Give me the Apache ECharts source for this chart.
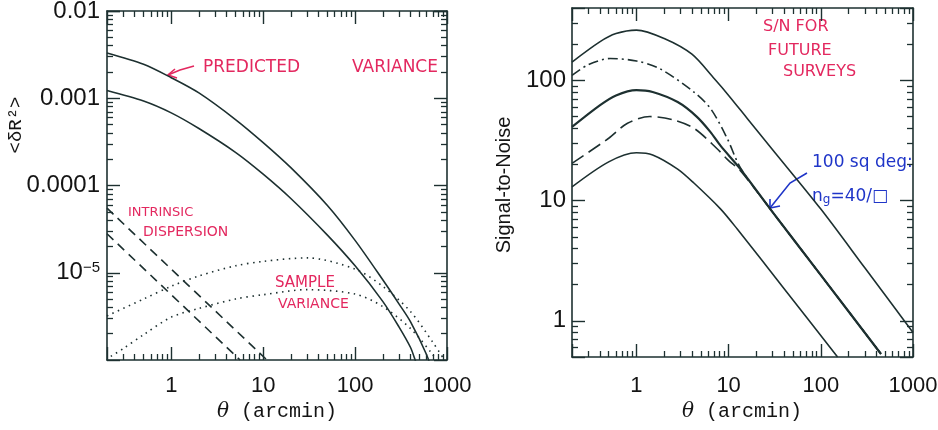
<!DOCTYPE html>
<html>
<head>
<meta charset="utf-8">
<title>Variance and S/N vs angular scale</title>
<script src="https://cdn.jsdelivr.net/npm/echarts@6/dist/echarts.min.js"></script>
<style>
html, body { margin: 0; padding: 0; background: #fff; }
#chart { width: 938px; height: 430px; }
</style>
</head>
<body>
<div id="chart"></div>
<script>
// ---- tick labels ----
var xLabels = [1, 10, 100, 1000];
var varLabels = [1e-5, 1e-4, 1e-3, 1e-2];
var snLabels = [1, 10, 100];

// ---- left panel: <dR^2> vs theta ----
var predictedHigh = [[0.2, 3.3e-3], [0.5, 2.45e-3], [1, 1.72e-3], [2, 1.15e-3], [5, 5.7e-4], [10, 3.1e-4],
  [20, 1.6e-4], [50, 5.9e-5], [100, 2.35e-5], [200, 8.3e-6], [300, 4.4e-6], [400, 2.75e-6], [600, 1.15e-6], [700, 7e-7]];
var predictedLow = [[0.2, 1.23e-3], [0.5, 9.3e-4], [1, 6.8e-4], [2, 4.5e-4], [5, 2.4e-4], [10, 1.35e-4],
  [20, 7.1e-5], [50, 2.7e-5], [100, 1.2e-5], [200, 4.7e-6], [300, 2.4e-6], [400, 1.4e-6], [450, 1e-6], [500, 7e-7]];
var sampleHigh = [[0.2, 3.2e-6], [0.5, 5e-6], [1, 7e-6], [2, 9.2e-6], [5, 1.2e-5], [10, 1.35e-5], [30, 1.48e-5],
  [100, 1.1e-5], [200, 7e-6], [400, 3.6e-6], [700, 1.6e-6], [1000, 9e-7]];
var sampleLow = [[0.22, 1.1e-6], [0.3, 1.35e-6], [0.5, 1.95e-6], [1, 3.1e-6], [2, 3.9e-6], [5, 5e-6], [10, 5.6e-6],
  [30, 6.4e-6], [100, 5.7e-6], [200, 4.1e-6], [400, 2.3e-6], [700, 1.15e-6], [800, 9e-7]];
var intrinsicHigh = [[0.2, 5.5e-5], [11, 1e-6]];
var intrinsicLow = [[0.2, 2.8e-5], [5.6, 1e-6]];

// ---- right panel: signal-to-noise vs theta ----
var snTop = [[0.2, 142], [0.4, 209], [0.6, 245], [1, 262], [2, 223], [4, 165], [7, 103], [10, 75], [16, 48],
  [30, 26.5], [100, 8.5], [300, 2.76], [1000, 0.8]];
var snDashDot = [[0.2, 110], [0.3, 135], [0.52, 152], [1, 145], [1.8, 125], [4.2, 80], [6.4, 58], [9.7, 32.6],
  [13.5, 18.6], [29, 8.3], [100, 2.4], [450, 0.53]];
var snMiddle = [[0.2, 41], [0.4, 62], [0.6, 75], [1, 83], [1.5, 80], [2.8, 66], [4.5, 50], [6.3, 37.5], [8.2, 28.5],
  [13.5, 18.2], [29, 8.3], [100, 2.4], [450, 0.53]];
var snDashed = [[0.2, 20.4], [0.5, 33], [0.8, 44], [1.4, 50], [2.5, 47], [4.2, 40], [7.5, 27], [10, 21.5],
  [13.5, 17.6], [29, 8.3], [100, 2.4], [450, 0.53]];
var snBottom = [[0.2, 13], [0.5, 21], [1, 25], [1.5, 24], [2.8, 18.3], [4.2, 14], [8.2, 8.5], [12.4, 5.8],
  [40, 1.85], [152, 0.5]];

var lineColor = '#1d3030';
var textColor = '#141414';
var pink = '#e3285f';
var blue = '#1f35c8';
var xRange = [0.2, 1000];
var varRange = [1e-6, 1e-2];
var snRange = [0.5, 400];

// axes carry line + ticks only; tick labels are placed from the axis scale below
// (large axisLabel text made the v6 ticks disappear here)
function logAxis(gridIndex, position, range) {
  return {
    type: 'log', logBase: 10, gridIndex: gridIndex, position: position,
    min: range[0], max: range[1],
    axisLine: { show: true, lineStyle: { color: lineColor, width: 1.6 } },
    axisTick: { show: true, inside: true, length: 13, lineStyle: { color: lineColor, width: 1.4 } },
    minorTick: { show: true, splitNumber: 9, length: 6, lineStyle: { color: lineColor, width: 1.3 } },
    axisLabel: { show: false },
    splitLine: { show: false },
    minorSplitLine: { show: false }
  };
}

var xAxes = [
  logAxis(0, 'bottom', xRange),
  logAxis(0, 'top', xRange),
  logAxis(1, 'bottom', xRange),
  logAxis(1, 'top', xRange)
];
var yAxes = [
  logAxis(0, 'left', varRange),
  logAxis(0, 'right', varRange),
  logAxis(1, 'left', snRange),
  logAxis(1, 'right', snRange)
];

function curve(data, panel, lineType, width) {
  return {
    type: 'line', data: data, xAxisIndex: panel * 2, yAxisIndex: panel * 2,
    showSymbol: false, smooth: 0.3, clip: true, silent: true,
    lineStyle: { color: lineColor, width: width || 1.6, type: lineType || 'solid' }
  };
}

function note(text, x, y, size, color) {
  return { type: 'text', x: x, y: y, silent: true,
    style: { text: text, fill: color, fontSize: size, fontFamily: 'DejaVu Sans', verticalAlign: 'middle' } };
}
function arrow(points, color) {
  return { type: 'polyline', silent: true, shape: { points: points },
    style: { stroke: color, lineWidth: 1.6, fill: null } };
}
function axisTitle(text, x, y, rotated, size, family, rich) {
  return { type: 'text', x: x, y: y, rotation: rotated ? Math.PI / 2 : 0, silent: true,
    style: { text: text, fill: textColor, fontSize: size, fontFamily: family,
      align: 'center', verticalAlign: 'middle', rich: rich } };
}
function tickText(text, x, y, align, vAlign, rich) {
  return { type: 'text', x: x, y: y, silent: true,
    style: { text: text, fill: textColor, fontSize: align === 'center' ? 22 : 24,
      fontFamily: 'Liberation Sans', align: align, verticalAlign: vAlign, rich: rich } };
}
var thetaRich = {
  i: { fontSize: 20, fontStyle: 'italic', fontFamily: 'DejaVu Serif', fill: textColor },
  t: { fontSize: 20, fontFamily: 'Liberation Mono', fill: textColor }
};
var powRich = {
  b: { fontSize: 24, fontFamily: 'Liberation Sans', fill: textColor },
  s: { fontSize: 15, fontFamily: 'Liberation Sans', fill: textColor, verticalAlign: 'top' }
};

var annotations = [
  axisTitle('{i|\u03b8}{t| (arcmin)}', 277, 412, false, 20, 'Liberation Mono', thetaRich),
  axisTitle('{i|\u03b8}{t| (arcmin)}', 742, 412, false, 20, 'Liberation Mono', thetaRich),
  axisTitle('<\u03b4R\u00b2>', 16, 125, true, 19, 'Liberation Mono'),
  axisTitle('Signal-to-Noise', 504, 185, true, 20, 'Liberation Sans'),
  note('PREDICTED', 203, 68, 17, pink),
  note('VARIANCE', 352, 68, 17, pink),
  arrow([[194, 66], [180, 70], [168, 75]], pink),
  arrow([[175, 69], [168, 75], [177, 78]], pink),
  note('INTRINSIC', 128, 213, 13, pink),
  note('DISPERSION', 143, 232, 14, pink),
  note('SAMPLE', 275, 283, 15, pink),
  note('VARIANCE', 278, 304, 14, pink),
  note('S/N FOR', 763, 27, 16, pink),
  note('FUTURE', 768, 51, 16, pink),
  note('SURVEYS', 783, 72, 16, pink),
  note('100 sq deg:', 812, 163, 17, blue),
  {
    type: 'text', x: 812, y: 197, silent: true,
    style: { text: '{n|n}{g|g}{n|=40/\u25a1}', verticalAlign: 'middle',
      rich: {
        n: { fontSize: 17, fontFamily: 'DejaVu Sans', fill: blue },
        g: { fontSize: 12, fontFamily: 'DejaVu Sans', fill: blue, verticalAlign: 'bottom' }
      } }
  },
  arrow([[807, 173], [790, 183], [770, 208]], blue),
  arrow([[770, 199], [770, 208], [780, 206]], blue)
];

var option = {
  animation: false,
  backgroundColor: '#fff',
  grid: [
    { left: 107, top: 11, width: 340, height: 349 },
    { left: 572, top: 8, width: 341, height: 349 }
  ],
  xAxis: xAxes,
  yAxis: yAxes,
  series: [
    curve(predictedHigh, 0),
    curve(predictedLow, 0),
    curve(sampleHigh, 0, [1.5, 4.5], 1.6),
    curve(sampleLow, 0, [1.5, 4.5], 1.6),
    curve(intrinsicHigh, 0, [9, 6]),
    curve(intrinsicLow, 0, [9, 6]),
    curve(snTop, 1),
    curve(snDashDot, 1, [10, 4, 2, 4]),
    curve(snMiddle, 1, 'solid', 2.2),
    curve(snDashed, 1, [14, 6]),
    curve(snBottom, 1)
  ]
};

var chart = echarts.init(document.getElementById('chart'), null, { renderer: 'canvas' });
chart.setOption(option);

// tick labels positioned through the axes' own log scales
function varText(v) {
  var e = Math.round(Math.log10(v));
  if (e >= -4) return v.toFixed(-e);
  return '{b|10}{s|\u2212' + (-e) + '}';
}
var labels = [];
xLabels.forEach(function (v) {
  var px0 = chart.convertToPixel({ xAxisIndex: 0 }, v);
  var px1 = chart.convertToPixel({ xAxisIndex: 2 }, v);
  if (isFinite(px0)) labels.push(tickText(String(v), px0, 375, 'center', 'top'));
  if (isFinite(px1)) labels.push(tickText(String(v), px1, 375, 'center', 'top'));
});
varLabels.forEach(function (v) {
  var py = chart.convertToPixel({ yAxisIndex: 0 }, v);
  if (isFinite(py)) labels.push(tickText(varText(v), 100, py, 'right', 'middle', powRich));
});
snLabels.forEach(function (v) {
  var py = chart.convertToPixel({ yAxisIndex: 2 }, v);
  if (isFinite(py)) labels.push(tickText(String(v), 566, py, 'right', 'middle'));
});

chart.setOption({ graphic: annotations.concat(labels) });
</script>
</body>
</html>
